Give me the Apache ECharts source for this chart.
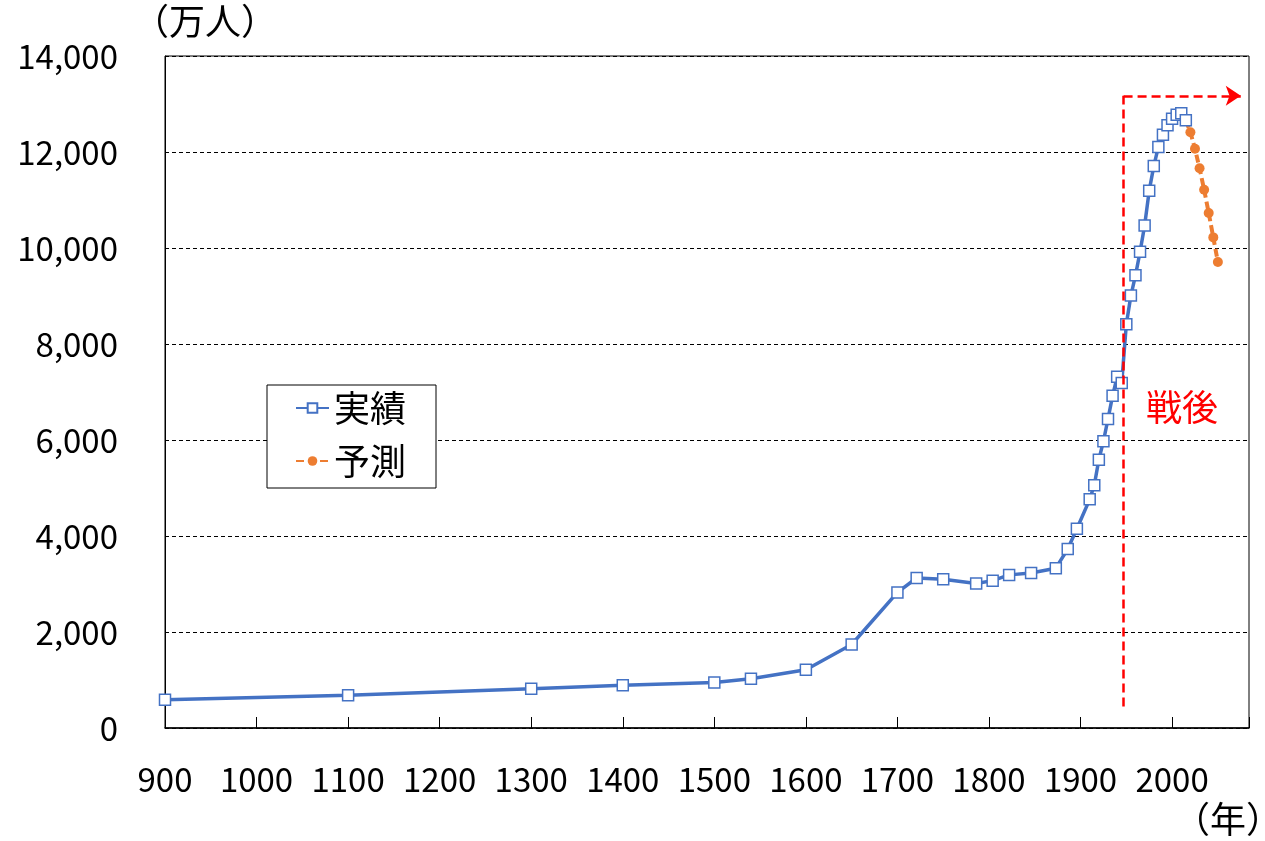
<!DOCTYPE html>
<html>
<head>
<meta charset="utf-8">
<script src="https://cdn.jsdelivr.net/npm/echarts@6/dist/echarts.min.js"></script>
<style>
  html, body { margin: 0; padding: 0; background: #fff; }
  #main { width: 1265px; height: 841px; }
</style>
</head>
<body>
<div id="main"></div>
<script>
// 実績 (actual population, 万人)
const actualYears = [900, 1100, 1300, 1400, 1500, 1540, 1600, 1650, 1700, 1721, 1750, 1786, 1804, 1822, 1846, 1873, 1886, 1896,
  1910, 1915, 1920, 1925, 1930, 1935, 1940, 1945, 1950, 1955, 1960, 1965, 1970, 1975, 1980, 1985, 1990, 1995, 2000, 2005, 2010, 2015];
const actualValues = [590, 684, 818, 890, 950, 1027, 1215, 1740, 2825, 3125, 3100, 3010, 3070, 3190, 3230, 3330, 3730, 4150,
  4764, 5056, 5590, 5974, 6440, 6920, 7320, 7190, 8411, 9008, 9430, 9921, 10467, 11194, 11706, 12105, 12361, 12557, 12693, 12777, 12806, 12660];

// 予測 (projection, 万人)
const forecastYears = [2015, 2020, 2025, 2030, 2035, 2040, 2045, 2050];
const forecastValues = [12660, 12410, 12066, 11662, 11212, 10728, 10221, 9708];

// 戦後 annotation
const postwarYear = 1947;
const postwarBottom = 450;
const postwarTop = 13170;
const arrowEndYear = 2075;

const yTicks = [0, 2000, 4000, 6000, 8000, 10000, 12000, 14000];
const xTickStart = 900;
const xTickStep = 100;
const xMax = 2084;

const font = '"Noto Sans CJK JP", "Noto Sans", sans-serif';
const toPairs = (xs, ys) => xs.map((x, i) => [x, ys[i]]);

const chart = echarts.init(document.getElementById('main'));
chart.setOption({
  animation: false,
  textStyle: { fontFamily: font },
  grid: { left: 165, right: 16, top: 56, bottom: 113, show: true, borderColor: '#000', borderWidth: 1 },
  legend: {
    orient: 'vertical',
    left: 267, top: 385,
    backgroundColor: '#fff',
    borderColor: '#000', borderWidth: 1, borderRadius: 0,
    padding: [5, 30, 9, 28],
    itemGap: 17,
    itemWidth: 33, itemHeight: 12,
    textStyle: { fontSize: 36, color: '#000', fontFamily: font },
    data: ['実績', '予測']
  },
  xAxis: {
    type: 'value',
    min: xTickStart, max: xMax, interval: xTickStep,
    axisLine: { show: true, lineStyle: { color: '#000', width: 1.5 } },
    axisTick: { show: true, inside: true, length: 11, lineStyle: { color: '#000' } },
    splitLine: { show: false },
    axisLabel: {
      color: '#000', fontSize: 33, margin: 35, fontFamily: font,
      formatter: v => (v % 100 === 0 ? String(v) : '')
    }
  },
  yAxis: {
    type: 'value',
    min: yTicks[0], max: yTicks[yTicks.length - 1], interval: 2000,
    axisLine: { show: true, lineStyle: { color: '#000' } },
    axisTick: { show: false },
    splitLine: { show: true, lineStyle: { color: '#000', type: [4, 3], width: 1 } },
    axisLabel: {
      color: '#000', fontSize: 33, margin: 47, fontFamily: font,
      formatter: v => v.toLocaleString('en-US')
    }
  },
  series: [
    {
      name: '予測',
      type: 'line',
      data: toPairs(forecastYears, forecastValues),
      symbol: 'circle', symbolSize: 10,
      itemStyle: { color: '#ED7D31' },
      lineStyle: { color: '#ED7D31', width: 4, type: [8, 4] },
      z: 2
    },
    {
      name: '実績',
      type: 'line',
      data: toPairs(actualYears, actualValues),
      symbol: 'rect', symbolSize: 11,
      itemStyle: { color: '#fff', borderColor: '#4472C4', borderWidth: 1.5 },
      lineStyle: { color: '#4472C4', width: 3.5 },
      z: 3,
      markLine: {
        silent: true,
        animation: false,
        label: { show: false },
        lineStyle: { color: '#FF0000', width: 2.5, type: [9, 5] },
        data: [
          [{ coord: [postwarYear, postwarBottom], symbol: 'none' }, { coord: [postwarYear, postwarTop], symbol: 'none' }],
          [{ coord: [postwarYear, postwarTop], symbol: 'none' }, { coord: [arrowEndYear, postwarTop], symbol: 'arrow', symbolSize: 15 }]
        ]
      }
    }
  ],
  graphic: [
    { type: 'text', left: 133, top: 3, style: { text: '（万人）', fontSize: 36, fill: '#000', fontFamily: font } },
    { type: 'text', left: 1174, top: 801, style: { text: '（年）', fontSize: 36, fill: '#000', fontFamily: font } },
    { type: 'text', left: 1146, top: 389, style: { text: '戦後', fontSize: 36, fill: '#FF0000', fontFamily: font } }
  ]
});
</script>
</body>
</html>
